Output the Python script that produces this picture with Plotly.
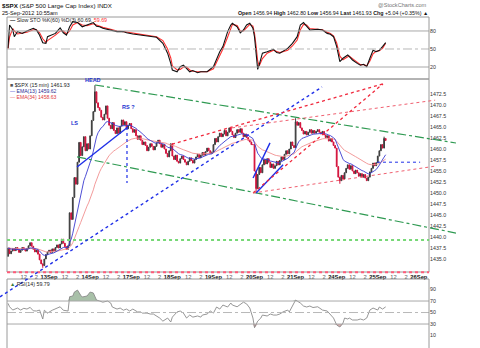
import numpy as np
import pandas as pd
import plotly.graph_objects as go

# ---------------- data ----------------
days = ["12Sep", "13Sep", "14Sep", "17Sep", "18Sep", "19Sep", "20Sep", "21Sep", "24Sep", "25Sep", "26Sep"]
BARS_PER_DAY = 26  # 15-minute bars, 9:30-16:00

close_12sep = [1437.5, 1436.2, 1436.8, 1437.4, 1436.9, 1437.6, 1437.1, 1436.5, 1437.0, 1437.6, 1437.2, 1436.8, 1437.4,
               1438.0, 1438.7, 1437.9, 1437.2, 1436.6, 1437.0, 1436.1, 1434.8, 1433.9, 1433.5, 1435.0, 1436.0, 1436.6]
close_13sep = [1437.0, 1436.5, 1437.3, 1436.8, 1437.6, 1438.2, 1437.5, 1438.4, 1439.5, 1438.6, 1437.8, 1437.2, 1438.0,
               1445.5, 1444.0, 1449.0, 1453.5, 1452.0, 1457.0, 1461.5, 1458.5, 1460.5, 1462.8, 1459.6, 1461.2, 1460.0]
close_14sep = [1463.0, 1466.5, 1468.5, 1473.0, 1470.5, 1469.4, 1468.8, 1467.2, 1466.6, 1467.9, 1469.8, 1467.0, 1465.4,
               1464.6, 1466.0, 1464.2, 1463.5, 1464.8, 1463.6, 1465.2, 1466.6, 1465.5, 1466.2, 1464.6, 1465.4, 1465.8]
close_17sep = [1464.6, 1463.8, 1464.4, 1463.0, 1462.2, 1463.0, 1462.0, 1461.0, 1461.6, 1460.8, 1459.6, 1460.4, 1461.2,
               1460.6, 1459.8, 1460.6, 1461.4, 1462.0, 1461.2, 1460.4, 1461.0, 1460.0, 1459.0, 1458.2, 1459.6, 1461.2]
close_18sep = [1458.4, 1457.6, 1458.6, 1457.2, 1456.8, 1457.8, 1458.4, 1457.6, 1457.0, 1456.4, 1457.2, 1458.0, 1457.4,
               1456.8, 1457.6, 1458.2, 1458.8, 1458.0, 1458.6, 1459.2, 1458.6, 1459.4, 1460.2, 1459.6, 1459.0, 1459.3]
close_19sep = [1461.0, 1462.4, 1461.6, 1462.8, 1463.6, 1462.8, 1463.4, 1464.2, 1463.0, 1463.8, 1464.8, 1464.0, 1463.2,
               1462.6, 1463.6, 1464.4, 1463.8, 1464.6, 1463.6, 1462.8, 1463.4, 1462.6, 1462.0, 1461.6, 1461.0, 1461.0]
close_20sep = [1455.0, 1451.0, 1454.2, 1455.8, 1454.6, 1456.4, 1457.6, 1456.6, 1457.8, 1457.0, 1455.8, 1456.6, 1455.6,
               1456.2, 1457.2, 1456.4, 1457.4, 1458.2, 1457.6, 1458.8, 1459.6, 1458.9, 1460.0, 1461.6, 1460.8, 1460.3]
close_21sep = [1466.2, 1465.4, 1466.0, 1464.8, 1464.2, 1463.4, 1464.0, 1463.2, 1463.8, 1464.4, 1463.6, 1464.2, 1463.6,
               1464.0, 1464.4, 1463.8, 1463.4, 1464.0, 1463.2, 1462.6, 1463.0, 1461.8, 1462.4, 1461.6, 1460.8, 1460.2]
close_24sep = [1456.0, 1453.6, 1452.8, 1454.0, 1453.2, 1454.6, 1455.6, 1456.4, 1455.4, 1456.2, 1455.0, 1454.4, 1455.2,
               1454.6, 1453.8, 1454.4, 1453.6, 1454.2, 1453.4, 1452.8, 1453.6, 1454.8, 1455.6, 1456.8, 1456.2, 1456.9]
close_25sep = [1458.4, 1459.6, 1461.0, 1460.2, 1462.4, 1461.93]

first_open = 1435.6
# bar index -> extreme that reaches beyond the candle body
wick_high = {55: 1474.5, 182: 1467.0, 238: 1462.8}
wick_low = {22: 1433.0, 157: 1450.0, 210: 1452.1}

# Slow stochastic (%K 60, %D 3), sampled by bar index
sto_bar = [0, 1, 3, 4, 6, 9, 12, 16, 18, 20, 22, 24, 25, 30, 33, 35, 37, 39, 41, 44,
           47, 50, 54, 56, 58, 60, 65, 69, 73, 75, 79, 85, 90, 94, 98, 101, 103, 104, 107, 109,
           111, 113, 115, 117, 120, 122, 126, 130, 132, 134, 136, 139, 141, 142, 145, 147, 149, 151, 153, 155,
           156, 157, 158, 159, 161, 164, 166, 168, 170, 172, 177, 180, 183, 185, 187, 189, 191, 196, 199, 202,
           204, 206, 208, 210, 212, 215, 216, 218, 221, 223, 225, 227, 229, 231, 233, 235, 237, 239]
sto_k = [51.7, 90, 82, 70.5, 79, 76, 80, 84.5, 81.6, 73, 60.5, 59.5, 70.5, 76, 85, 77, 73, 87, 95.5, 94,
         87, 90, 94, 88, 87, 84.5, 81.7, 79, 79, 77, 75, 73, 71.7, 69.5, 59.5, 43, 26, 15, 12, 20.5,
         23, 18, 12, 14, 10.5, 12, 12, 20.5, 34.5, 45.5, 54, 79, 90, 92.8, 87, 77, 81.7, 90, 92.8, 84.5,
         70, 40, 16, 24, 43, 45.5, 48, 49.5, 44, 43, 51, 59.5, 70.5, 90, 94, 87, 81.7, 83, 81.7, 76,
         74.5, 70.5, 54, 29, 34.5, 40, 37, 31.7, 26, 23, 24.5, 20.5, 34.5, 48, 45.5, 48, 54, 60.69]
sto_d = [50, 70, 84, 80, 75, 77, 78, 82, 82, 77, 67, 61, 64, 73, 80, 80, 75, 80, 90, 94,
         90, 89, 92, 90, 88, 86, 83, 80, 79, 78, 76, 74, 72, 70.5, 64, 50, 35, 22, 15, 16,
         20, 20, 15, 13, 12, 12, 12, 17, 28, 40, 50, 70, 84, 91, 89, 80, 80, 86, 91, 88,
         76, 55, 30, 22, 34, 43, 46, 48, 46, 44, 48, 55, 65, 82, 91, 90, 84, 82, 82, 78,
         76, 72, 60, 38, 32, 37, 38, 34, 28, 24, 24, 22, 30, 42, 46, 47, 51, 59.69]

# RSI(14), sampled by bar index
rsi_bar = [0, 1, 3, 6, 8, 10, 12, 14, 16, 18, 20, 22, 23, 25, 28, 31, 33, 35, 38, 39,
           41, 42, 44, 46, 47, 50, 52, 54, 56, 58, 60, 63, 65, 66, 69, 71, 73, 75, 77, 79,
           82, 84, 85, 88, 90, 92, 94, 96, 98, 101, 103, 104, 107, 109, 111, 113, 115, 117, 120, 122,
           123, 126, 128, 130, 132, 134, 136, 139, 141, 142, 145, 147, 149, 151, 153, 155, 156, 158, 160, 161,
           164, 166, 168, 170, 172, 174, 177, 178, 180, 182, 183, 185, 187, 189, 191, 193, 196, 197, 199, 202,
           204, 206, 208, 210, 212, 213, 215, 216, 218, 221, 223, 225, 227, 229, 231, 234, 235, 237, 239]
rsi_val = [66, 60, 54.3, 57.8, 54.3, 57.3, 56, 59, 53, 52.6, 54.3, 38.7, 54, 49, 54, 57, 60, 54, 52.6, 77.5,
           78.7, 85.6, 89, 80, 77, 78.7, 85.6, 84, 71.7, 70, 68, 70, 66.5, 59.6, 56, 57.8, 54, 56, 52.6, 56,
           51, 51, 49, 49, 47.4, 47.4, 44, 40.4, 35, 40.4, 33.5, 42, 51, 52.6, 49, 40.4, 45.6, 42, 44, 42,
           45.6, 47.4, 52.6, 49, 59.6, 56, 63, 59.6, 66.5, 63, 60, 64, 68, 65, 57.8, 40.4, 23.6, 35, 40.4, 45.6,
           44, 47.4, 45.6, 45.6, 47.4, 51, 54.3, 51, 61.3, 71.7, 70, 66.5, 61.3, 59.6, 61.3, 58.7, 60, 57.8, 54.3, 52.6,
           47.4, 40.4, 28.3, 24.8, 31.7, 40.4, 38.7, 40.4, 37, 37, 38.7, 37, 40.4, 54.3, 57.8, 54.3, 59.6, 56, 59.79]

price_ticks = [1435.0, 1437.5, 1440.0, 1442.5, 1445.0, 1447.5, 1450.0, 1452.5, 1455.0, 1457.5,
               1460.0, 1462.5, 1465.0, 1467.5, 1470.0, 1472.5]
sto_ticks = [20, 50, 80]
rsi_ticks = [10, 30, 50, 70, 90]

# ---------------- derived series ----------------
closes = (close_12sep + close_13sep + close_14sep + close_17sep + close_18sep + close_19sep
          + close_20sep + close_21sep + close_24sep + close_25sep)
n = len(closes)
bars = list(range(n))
opens = [first_open] + closes[:-1]
highs = [max(o, c) for o, c in zip(opens, closes)]
lows = [min(o, c) for o, c in zip(opens, closes)]
for b, v in wick_high.items():
    highs[b] = max(highs[b], v)
for b, v in wick_low.items():
    lows[b] = min(lows[b], v)

cs = pd.Series(closes)
ema13 = cs.ewm(span=13, adjust=False).mean()
ema34 = cs.ewm(span=34, adjust=False).mean()

rsi_arr = np.array(rsi_val)

# ---------------- geometry helpers (figure pixels -> paper) ----------------
W, H = 480, 348
def pxx(x):
    return x / W
def pxy(y):
    return 1 - y / H

FONT = "Liberation Sans, Arial, sans-serif"
LEFT, RIGHT = 7, 429

fig = go.Figure()

# price candles
fig.add_trace(go.Candlestick(
    x=bars, open=opens, high=highs, low=lows, close=closes,
    increasing=dict(line=dict(color="#3c3c3c", width=1), fillcolor="#5a5a5a"),
    decreasing=dict(line=dict(color="#d4123c", width=1), fillcolor="#d4123c"),
    whiskerwidth=0, xaxis="x", yaxis="y", hoverinfo="skip"))
fig.add_trace(go.Scatter(x=bars, y=ema34, mode="lines", line=dict(color="#f09090", width=0.9),
                         xaxis="x", yaxis="y"))
fig.add_trace(go.Scatter(x=bars, y=ema13, mode="lines", line=dict(color="#3b3bd0", width=0.9),
                         xaxis="x", yaxis="y"))

# stochastic
fig.add_trace(go.Scatter(x=sto_bar, y=sto_d, mode="lines", line=dict(color="#ff3030", width=1.1),
                         xaxis="x", yaxis="y2"))
fig.add_trace(go.Scatter(x=sto_bar, y=sto_k, mode="lines", line=dict(color="#111111", width=1.1),
                         xaxis="x", yaxis="y2"))

# RSI with overbought / oversold shading
fig.add_trace(go.Scatter(x=rsi_bar, y=[70] * len(rsi_bar), mode="lines", line=dict(width=0),
                         xaxis="x", yaxis="y3"))
fig.add_trace(go.Scatter(x=rsi_bar, y=np.maximum(rsi_arr, 70), mode="lines", line=dict(width=0),
                         fill="tonexty", fillcolor="rgba(110,150,110,0.6)", xaxis="x", yaxis="y3"))
fig.add_trace(go.Scatter(x=rsi_bar, y=[30] * len(rsi_bar), mode="lines", line=dict(width=0),
                         xaxis="x", yaxis="y3"))
fig.add_trace(go.Scatter(x=rsi_bar, y=np.minimum(rsi_arr, 30), mode="lines", line=dict(width=0),
                         fill="tonexty", fillcolor="rgba(190,120,120,0.6)", xaxis="x", yaxis="y3"))
fig.add_trace(go.Scatter(x=rsi_bar, y=rsi_val, mode="lines", line=dict(color="#8a8a8a", width=0.9),
                         xaxis="x", yaxis="y3"))

# ---------------- shapes ----------------
shapes = []
grid_col = "#a8a8a8"
for yref, vals in (("y2", (20, 80)), ("y3", (30, 70))):
    for v in vals:
        shapes.append(dict(type="line", xref="paper", yref=yref, x0=pxx(LEFT), x1=pxx(RIGHT), y0=v, y1=v,
                           line=dict(color=grid_col, width=1)))
    shapes.append(dict(type="line", xref="paper", yref=yref, x0=pxx(LEFT), x1=pxx(RIGHT), y0=50, y1=50,
                       line=dict(color="#b8b8b8", width=1, dash="dashdot")))

# panel frames
for top, bot in ((17, 79), (79, 272), (279, 349)):
    shapes.append(dict(type="rect", xref="paper", yref="paper", x0=pxx(LEFT), x1=pxx(RIGHT),
                       y0=pxy(bot), y1=pxy(top), line=dict(color="#9a9a9a", width=1)))

def seg(x0, y0, x1, y1, color, width, dash="solid"):
    shapes.append(dict(type="line", xref="x", yref="y", x0=x0, y0=y0, x1=x1, y1=y1,
                       line=dict(color=color, width=width, dash=dash)))

GREEN = "#2f9a52"
BLUE = "#1f2fe8"
RED = "#f0283c"
# horizontal support lines
seg(-0.6, 1439.3, 266.5, 1439.3, "#77d877", 2, "dot")
seg(-0.6, 1432.0, 266.5, 1432.0, "#ff5a78", 2, "dot")
# descending channel
seg(55.1, 1474.55, 283.5, 1461.36, GREEN, 1.2, "dashdot")
seg(43.7, 1458.2, 283.5, 1440.9, GREEN, 1.2, "dashdot")
# head-and-shoulders neckline and markers
seg(43.7, 1455.9, 75.9, 1465.0, BLUE, 1.4)
seg(-5.06, 1426.4, 198.7, 1474.1, BLUE, 1.4, "dot")
seg(75.3, 1465.0, 75.3, 1452.3, BLUE, 1.2, "dot")
seg(233.5, 1457.0, 260.8, 1457.0, BLUE, 1.0, "dot")
seg(155.1, 1453.4, 165.8, 1461.4, BLUE, 1.4)
seg(157.0, 1450.0, 174.1, 1456.4, BLUE, 1.4)
# rising wedges
seg(103.8, 1461.1, 237.3, 1474.8, RED, 1.3, "dot")
seg(155.1, 1450.0, 237.3, 1474.8, RED, 1.3, "dot")
seg(141.8, 1464.8, 270.3, 1471.1, "#f06070", 1.0, "dot")
seg(155.1, 1450.0, 270.3, 1456.1, "#f06070", 1.0, "dot")

# ---------------- annotations ----------------
ann = []
def txt(x, y, text, size=5.5, color="#222", anchor="left", family=FONT):
    ann.append(dict(x=pxx(x), y=pxy(y), xref="paper", yref="paper", text=text, showarrow=False,
                    xanchor=anchor, yanchor="middle", font=dict(size=size, color=color, family=family)))

txt(0, 5.5, "<b>$SPX</b> (S&P 500 Large Cap Index) INDX", 6.2, "#111")
txt(0, 13, "25-Sep-2012 10:55am", 5.6, "#111")
txt(429, 5.5, "@StockCharts.com", 5.6, "#777", "right")
txt(430, 13, "<b>Open</b> 1456.94 <b>High</b> 1462.80 <b>Low</b> 1456.94 <b>Last</b> 1461.93 "
             "<b>Chg</b> +5.04 (+0.35%) ▲", 5.3, "#111", "right")
txt(8, 20, "<b>—</b> Slow STO %K(60) %D(3) 60.69, <span style='color:#ff3030'>59.69</span>", 5.3, "#222")
txt(7.5, 85, "<span style='color:#555'>■</span> $SPX (15 min) 1461.93", 5.3, "#222")
txt(8, 91, "<span style='color:#3b3bd0'>—</span> EMA(13) 1459.62", 5.1, "#2a2a90")
txt(8, 97, "<span style='color:#f07070'>—</span> EMA(34) 1458.63", 5.1, "#e04040")
txt(8, 283.5, "<span style='color:#3a7a3a'>▲</span> RSI(14) 59.79", 5.3, "#222")

for label, bx, by in (("HEAD", 53.8, 1475.6), ("LS", 41.8, 1465.9), ("RS ?", 76.0, 1469.5)):
    ann.append(dict(x=bx, y=by, xref="x", yref="y", text="<b>" + label + "</b>", showarrow=False,
                    xanchor="center", yanchor="middle", font=dict(size=5.5, color="#2030d0", family=FONT)))

# ---------------- axes ----------------
tickvals, ticktext = [], []
for d, name in enumerate(days):
    start = d * BARS_PER_DAY
    tickvals.append(start)
    ticktext.append("<b>" + name + "</b>")
    if start + 18 < 266:
        tickvals += [start + 10, start + 18]
        ticktext += ["<span style='color:#555'>12</span>", "<span style='color:#555'>2</span>"]

p_lo = 1472.5 - (348 - 94) / 4.4
p_hi = 1472.5 - (79 - 94) / 4.4

yaxis_common = dict(anchor="free", position=pxx(RIGHT), side="right", showgrid=False, zeroline=False,
                    showline=False, ticks="", automargin=False,
                    tickfont=dict(size=5.3, color="#333", family=FONT))

fig.update_layout(
    width=W, height=H, margin=dict(l=0, r=0, t=0, b=0),
    paper_bgcolor="white", plot_bgcolor="rgba(0,0,0,0)", showlegend=False,
    xaxis=dict(domain=[0, pxx(456)], range=[-5.06, 283.5], anchor="free", position=pxy(272.5),
               showgrid=False, zeroline=False, showline=False, ticks="", automargin=False,
               tickvals=tickvals, ticktext=ticktext, tickangle=0,
               tickfont=dict(size=5.8, color="#111", family=FONT), rangeslider=dict(visible=False)),
    yaxis=dict(domain=[0, pxy(79)], range=[p_lo, p_hi], tickvals=price_ticks,
               ticktext=[f"{v:.1f}" for v in price_ticks], **yaxis_common),
    yaxis2=dict(domain=[pxy(79), pxy(17)], range=[0, 103.3], tickvals=sto_ticks,
                ticktext=[str(v) for v in sto_ticks], **yaxis_common),
    yaxis3=dict(domain=[0, pxy(279)], range=[-11.7, 108.3], tickvals=rsi_ticks,
                ticktext=[str(v) for v in rsi_ticks], **yaxis_common),
    shapes=shapes, annotations=ann,
)

fig.write_html("out.html")
